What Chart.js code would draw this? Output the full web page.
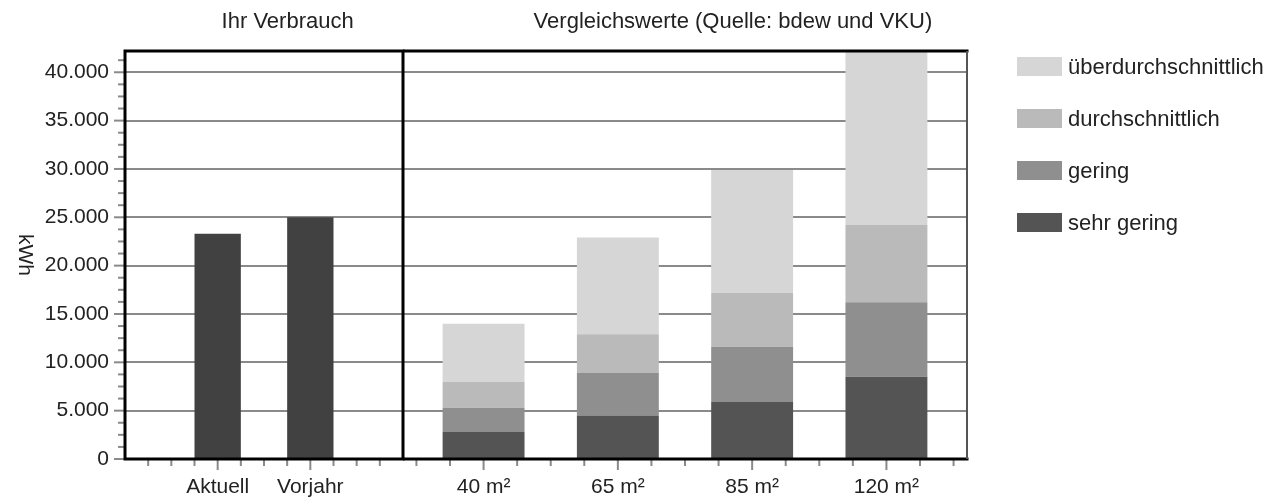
<!DOCTYPE html>
<html lang="de">
<head>
<meta charset="utf-8">
<title>Ihr Verbrauch</title>
<script src="https://cdn.jsdelivr.net/npm/chart.js@4.4.1/dist/chart.umd.min.js"></script>
<style>
  html, body { margin: 0; padding: 0; background: #fff; }
  body { width: 1271px; height: 502px; position: relative; overflow: hidden; font-family: "Liberation Sans", Arial, sans-serif; }
  #boxLinks { position: absolute; left: 0; top: 0; width: 405px; height: 502px; z-index: 2; }
  #boxRechts { position: absolute; left: 403px; top: 0; width: 868px; height: 502px; z-index: 1; }
  #legende { position: absolute; left: 1017px; top: 57px; z-index: 3; }
  .eintrag { display: flex; align-items: center; height: 19px; margin-bottom: 33px; font-size: 22px; color: #222; white-space: nowrap; }
  .kasten { width: 45px; height: 19px; margin-right: 6px; }
</style>
</head>
<body>
<div id="boxLinks"><canvas id="graficoLinks"></canvas></div>
<div id="boxRechts"><canvas id="graficoRechts"></canvas></div>
<div id="legende"></div>
<script>
// eigener Verbrauch
const verbrauchLabels = ['Aktuell', 'Vorjahr'];
const verbrauchWerte = [23300, 25000];

// Vergleichswerte (Segmente, von unten nach oben)
const flaechen = ['40 m²', '65 m²', '85 m²', '120 m²'];
const sehrGering = [2800, 4500, 5900, 8500];
const gering = [2500, 4400, 5700, 7700];
const durchschnittlich = [2700, 4000, 5600, 8000];
const ueberdurchschnittlich = [6000, 10000, 12700, 17900];

const yMax = 42200;
const yHaupt = 5000;
const yNeben = 1250;

const schrift = '"Liberation Sans", Arial, sans-serif';
const textFarbe = '#222';

function formatKwh(v) {
  return String(v).replace(/\B(?=(\d{3})+(?!\d))/g, '.');
}

// Rahmen, Nebenstriche, Titel
const rahmenPlugin = {
  id: 'rahmen',
  afterDatasetsDraw(chart, args, opts) {
    const { ctx, chartArea: a } = chart;
    const x = chart.scales.x;
    ctx.save();
    ctx.strokeStyle = '#8a8a8a';
    ctx.lineWidth = 2;
    for (let v = Math.ceil(x.min / 0.25) * 0.25; v < x.max; v += 0.25) {
      if (v <= x.min) continue;
      const px = x.getPixelForValue(v);
      const haupt = Math.abs(v - Math.round(v)) < 1e-6;
      ctx.beginPath();
      ctx.moveTo(px, a.bottom);
      ctx.lineTo(px, a.bottom + (haupt ? 11 : 7));
      ctx.stroke();
    }
    if (opts.yStriche) {
      const y = chart.scales.y;
      for (let v = 0; v < y.max; v += yNeben) {
        const py = y.getPixelForValue(v);
        const haupt = v % yHaupt === 0;
        ctx.beginPath();
        ctx.moveTo(a.left - (haupt ? 11 : 7), py);
        ctx.lineTo(a.left, py);
        ctx.stroke();
      }
    }

    ctx.strokeStyle = '#000';
    ctx.lineWidth = 3;
    ctx.beginPath();
    ctx.moveTo(a.left - 1.5, a.top); ctx.lineTo(a.right + 1.5, a.top);
    ctx.moveTo(a.left - 1.5, a.bottom); ctx.lineTo(a.right + 1.5, a.bottom);
    if (opts.links) { ctx.moveTo(a.left, a.top); ctx.lineTo(a.left, a.bottom + 1.5); }
    if (opts.rechts) { ctx.moveTo(a.right, a.top); ctx.lineTo(a.right, a.bottom + 1.5); }
    ctx.stroke();
    if (opts.rechtsGrau) {
      ctx.strokeStyle = '#555';
      ctx.lineWidth = 2;
      ctx.beginPath();
      ctx.moveTo(a.right, a.top); ctx.lineTo(a.right, a.bottom);
      ctx.stroke();
    }

    ctx.fillStyle = textFarbe;
    ctx.textAlign = 'center';
    ctx.textBaseline = 'middle';
    ctx.font = '22px ' + schrift;
    ctx.fillText(opts.titel, a.left + a.width * 0.585, 22);
    if (opts.einheit) {
      ctx.font = '21px ' + schrift;
      ctx.translate(25, (a.top + a.bottom) / 2);
      ctx.rotate(Math.PI / 2);
      ctx.fillText(opts.einheit, 0, 0);
    }
    ctx.restore();
  }
};

function yAchse(mitText) {
  return {
    min: 0,
    max: yMax,
    stacked: true,
    afterBuildTicks: s => {
      const t = [];
      for (let v = 0; v <= yMax; v += yHaupt) t.push({ value: v });
      s.ticks = t;
    },
    afterFit: s => { s.width = mitText ? 125 : 0; },
    border: { display: false },
    grid: { color: '#8a8a8a', lineWidth: 2, drawTicks: false },
    ticks: {
      display: mitText,
      autoSkip: false,
      padding: 16,
      color: textFarbe,
      font: { family: schrift, size: 21 },
      callback: v => formatKwh(v)
    }
  };
}

function xAchse(labels, min, max) {
  return {
    type: 'linear',
    min: min,
    max: max,
    offset: false,
    bounds: 'data',
    stacked: true,
    afterBuildTicks: s => { s.ticks = labels.map((_, i) => ({ value: i })); },
    afterFit: s => { s.height = 43; },
    border: { display: false },
    grid: { display: false, offset: false },
    ticks: {
      autoSkip: false,
      padding: 8,
      color: textFarbe,
      font: { family: schrift, size: 21 },
      callback: v => labels[v]
    }
  };
}

Chart.defaults.animation = false;
Chart.defaults.font.family = schrift;

new Chart(document.getElementById('graficoLinks'), {
  type: 'bar',
  data: {
    datasets: [{
      label: 'Ihr Verbrauch',
      data: verbrauchWerte.map((v, i) => ({ x: i, y: v })),
      backgroundColor: '#414141',
      categoryPercentage: 1,
      barPercentage: 0.5
    }]
  },
  options: {
    responsive: true,
    maintainAspectRatio: false,
    layout: { padding: { top: 51, right: 2, left: 0, bottom: 0 } },
    plugins: {
      legend: { display: false },
      tooltip: { enabled: false },
      rahmen: { titel: 'Ihr Verbrauch', einheit: 'kWh', links: true, rechts: true, yStriche: true }
    },
    scales: {
      x: xAchse(verbrauchLabels, -1, 2),
      y: yAchse(true)
    }
  },
  plugins: [rahmenPlugin]
});

const stufen = [
  { label: 'sehr gering', werte: sehrGering, farbe: '#555455' },
  { label: 'gering', werte: gering, farbe: '#8f8f8f' },
  { label: 'durchschnittlich', werte: durchschnittlich, farbe: '#bababa' },
  { label: 'überdurchschnittlich', werte: ueberdurchschnittlich, farbe: '#d6d6d6' }
];

new Chart(document.getElementById('graficoRechts'), {
  type: 'bar',
  data: {
    datasets: stufen.map(s => ({
      label: s.label,
      data: s.werte.map((v, i) => ({ x: i, y: v })),
      backgroundColor: s.farbe,
      categoryPercentage: 1,
      barPercentage: 0.61
    }))
  },
  options: {
    responsive: true,
    maintainAspectRatio: false,
    layout: { padding: { top: 51, right: 304, left: 0, bottom: 0 } },
    plugins: {
      legend: { display: false },
      tooltip: { enabled: false },
      rahmen: { titel: 'Vergleichswerte (Quelle: bdew und VKU)', rechtsGrau: true }
    },
    scales: {
      x: xAchse(flaechen, -0.6, 3.6),
      y: yAchse(false)
    }
  },
  plugins: [rahmenPlugin]
});

// Legende, oberste Stufe zuerst
document.getElementById('legende').innerHTML = stufen.slice().reverse().map(s => `
  <div class="eintrag"><span class="kasten" style="background:${s.farbe}"></span>${s.label}</div>
`).join('');
</script>
</body>
</html>
